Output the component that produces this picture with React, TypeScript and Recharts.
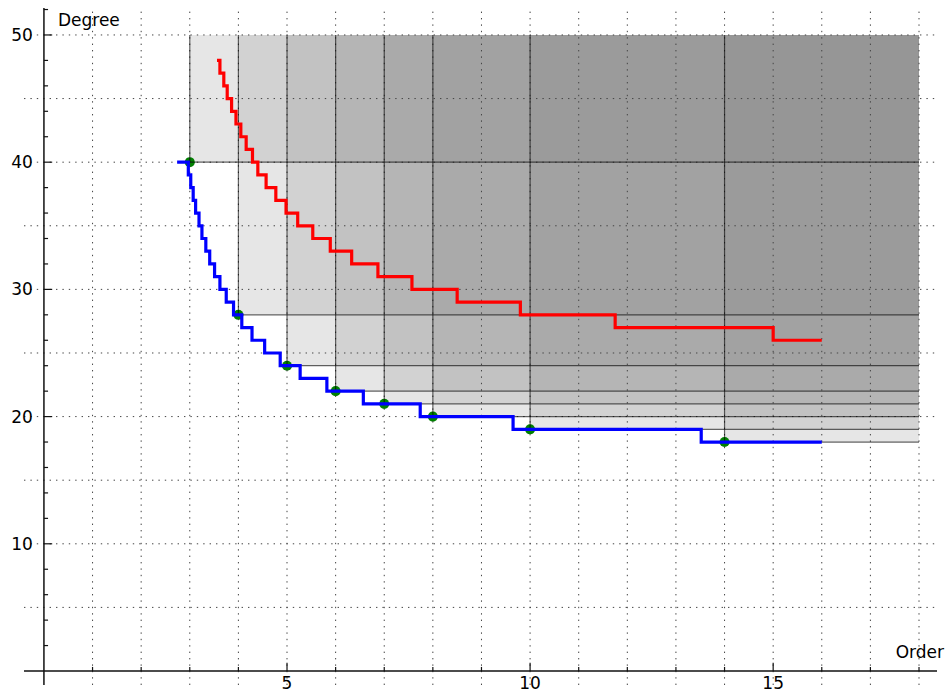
import React from 'react';
import {
  ComposedChart,
  XAxis,
  YAxis,
  ZAxis,
  Line,
  Scatter,
  ReferenceArea,
  ReferenceLine,
  ReferenceDot,
} from 'recharts';

// Blue step curve (order, degree)
const blueOrder = [2.74, 2.97, 3.02, 3.07, 3.12, 3.19, 3.25, 3.33, 3.41, 3.51, 3.62, 3.75, 3.9, 4.07, 4.28, 4.54, 4.86, 5.27, 5.82, 6.57, 7.74, 9.65, 13.52, 16.0];
const blueDegree = [40, 39, 38, 37, 36, 35, 34, 33, 32, 31, 30, 29, 28, 27, 26, 25, 24, 23, 22, 21, 20, 19, 18, 18];

// Red step curve (order, degree)
const redOrder = [3.56, 3.62, 3.7, 3.77, 3.86, 3.95, 4.05, 4.16, 4.29, 4.4, 4.57, 4.77, 4.98, 5.22, 5.53, 5.89, 6.33, 6.87, 7.57, 8.5, 9.8, 11.75, 15.0, 16.0];
const redDegree = [48, 47, 46, 45, 44, 43, 42, 41, 40, 39, 38, 37, 36, 35, 34, 33, 32, 31, 30, 29, 28, 27, 26, 26];

// Green points (corners of the shaded regions)
const pointOrder = [3, 4, 5, 6, 7, 8, 10, 14];
const pointDegree = [40, 28, 24, 22, 21, 20, 19, 18];

// Shaded region limits
const regionMaxOrder = 18;
const regionMaxDegree = 50;

// Axes
const xDomain = [-0.41, 18.37];
const yDomain = [-1.1, 52.12];
const xGrid = [1, 2, 3, 4, 5, 6, 7, 8, 9, 10, 11, 12, 13, 14, 15, 16, 17, 18];
const yGrid = [5, 10, 15, 20, 25, 30, 35, 40, 45, 50];
const xMajorTicks = [5, 10, 15];
const xMinorTicks = [1, 2, 3, 4, 6, 7, 8, 9, 11, 12, 13, 14, 16, 17, 18];
const yMajorTicks = [10, 20, 30, 40, 50];
const yMinorTicks = [2, 4, 6, 8, 12, 14, 16, 18, 22, 24, 26, 28, 32, 34, 36, 38, 42, 44, 46, 48, 52];
const xTickLabels = ['5', '10', '15'];
const yTickLabels = ['10', '20', '30', '40', '50'];
const xAxisTitle = 'Order';
const yAxisTitle = 'Degree';

const blueData = blueOrder.map((x, i) => ({ x, y: blueDegree[i] }));
const redData = redOrder.map((x, i) => ({ x, y: redDegree[i] }));
const pointData = pointOrder.map((x, i) => ({ x, y: pointDegree[i] }));

const FONT = 'DejaVu Sans, sans-serif';
const labelStyle = { fontSize: 17, fill: '#000', fontFamily: FONT };

export default function App() {
  return (
    <div style={{ position: 'absolute', left: 0, top: 0, fontFamily: FONT }}>
      <ComposedChart
        width={946}
        height={692}
        margin={{ top: 8, right: 9, bottom: 7, left: 24 }}
      >
        <XAxis
          type="number"
          dataKey="x"
          domain={xDomain}
          allowDataOverflow
          ticks={xMajorTicks}
          hide
        />
        <YAxis
          type="number"
          dataKey="y"
          domain={yDomain}
          allowDataOverflow
          ticks={yMajorTicks}
          hide
        />
        <ZAxis range={[80, 80]} />

        {/* dotted grid */}
        {xGrid.map((v) => (
          <ReferenceLine key={'gx' + v} x={v} stroke="#444" strokeWidth={1} strokeDasharray="1.4 5" />
        ))}
        {yGrid.map((v) => (
          <ReferenceLine key={'gy' + v} y={v} stroke="#444" strokeWidth={1} strokeDasharray="1.4 5" />
        ))}

        {/* shaded regions */}
        {pointOrder.map((x, i) => (
          <ReferenceArea
            key={'ra' + i}
            x1={x}
            x2={regionMaxOrder}
            y1={pointDegree[i]}
            y2={regionMaxDegree}
            fill="#808080"
            fillOpacity={0.2}
            stroke="none"
          />
        ))}
        {pointOrder.map((x, i) => (
          <ReferenceLine
            key={'ev' + i}
            segment={[
              { x, y: pointDegree[i] },
              { x, y: regionMaxDegree },
            ]}
            stroke="#000"
            strokeOpacity={0.6}
            strokeWidth={1.2}
          />
        ))}
        {pointOrder.map((x, i) => (
          <ReferenceLine
            key={'eh' + i}
            segment={[
              { x, y: pointDegree[i] },
              { x: regionMaxOrder, y: pointDegree[i] },
            ]}
            stroke="#000"
            strokeOpacity={0.6}
            strokeWidth={1.2}
          />
        ))}

        {/* axis lines at zero */}
        <ReferenceLine y={0} stroke="#111" strokeWidth={1.5} />
        <ReferenceLine x={0} stroke="#111" strokeWidth={1.5} />

        {/* axis ticks */}
        {xMinorTicks.map((v) => (
          <ReferenceLine key={'xm' + v} segment={[{ x: v, y: 0 }, { x: v, y: 0.32 }]} stroke="#111" strokeWidth={1.2} />
        ))}
        {xMajorTicks.map((v) => (
          <ReferenceLine key={'xM' + v} segment={[{ x: v, y: 0 }, { x: v, y: 0.65 }]} stroke="#111" strokeWidth={1.2} />
        ))}
        {yMinorTicks.map((v) => (
          <ReferenceLine key={'ym' + v} segment={[{ x: 0, y: v }, { x: 0.085, y: v }]} stroke="#111" strokeWidth={1.2} />
        ))}
        {yMajorTicks.map((v) => (
          <ReferenceLine key={'yM' + v} segment={[{ x: 0, y: v }, { x: 0.17, y: v }]} stroke="#111" strokeWidth={1.2} />
        ))}

        {/* series */}
        <Scatter data={pointData} dataKey="y" fill="#008000" zIndex={350} isAnimationActive={false} />
        <Line
          data={blueData}
          dataKey="y"
          type="stepAfter"
          stroke="#0000ff"
          strokeWidth={3.2}
          dot={false}
          activeDot={false}
          zIndex={400}
          isAnimationActive={false}
        />
        <Line
          data={redData}
          dataKey="y"
          type="stepAfter"
          stroke="#ff0000"
          strokeWidth={3.2}
          dot={false}
          activeDot={false}
          zIndex={400}
          isAnimationActive={false}
        />

        {/* tick labels */}
        {xMajorTicks.map((v, i) => (
          <ReferenceDot
            key={'xl' + v}
            x={v}
            y={0}
            r={1}
            fill="none"
            stroke="none"
            label={{ value: xTickLabels[i], position: 'bottom', offset: 5, ...labelStyle }}
          />
        ))}
        {yMajorTicks.map((v, i) => (
          <ReferenceDot
            key={'yl' + v}
            x={0}
            y={v}
            r={1}
            fill="none"
            stroke="none"
            label={{ value: yTickLabels[i], position: 'left', offset: 10, ...labelStyle }}
          />
        ))}

        {/* axis titles */}
        <ReferenceDot
          x={0}
          y={51.18}
          r={1}
          fill="none"
          stroke="none"
          label={{ value: yAxisTitle, position: 'right', offset: 13, ...labelStyle }}
        />
        <ReferenceDot
          x={17.5}
          y={1.5}
          r={1}
          fill="none"
          stroke="none"
          label={{ value: xAxisTitle, position: 'right', offset: 0, ...labelStyle }}
        />
      </ComposedChart>
    </div>
  );
}
